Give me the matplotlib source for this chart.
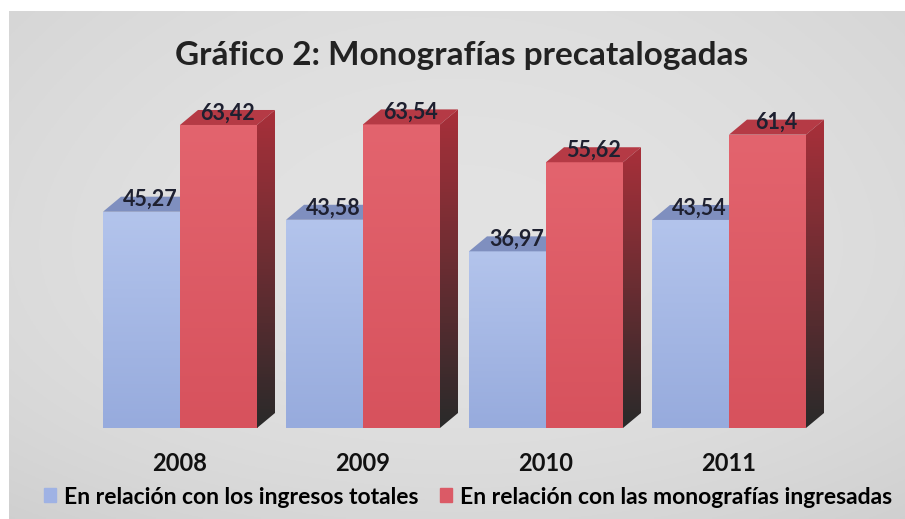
import numpy as np
import matplotlib.pyplot as plt
from matplotlib.patches import Polygon, Patch
from matplotlib.colors import LinearSegmentedColormap

plt.rcParams['font.family'] = ['Lato', 'DejaVu Sans']

# data
years = ['2008', '2009', '2010', '2011']
ingresos_totales = [45.27, 43.58, 36.97, 43.54]
monografias_ingresadas = [63.42, 63.54, 55.62, 61.4]
series_names = ['En relación con los ingresos totales',
                'En relación con las monografías ingresadas']

W, H = 905, 519
fig = plt.figure(figsize=(W / 100, H / 100), dpi=100)
fig.patch.set_facecolor('white')

# gray gradient background (chart area)
bg = fig.add_axes([9 / W, 0, 1 - 9 / W, 508 / H])
yy = np.linspace(0, 1, 200)[:, None]
xx = np.linspace(0, 1, 300)[None, :]
shade = 0.905 - 0.06 * (1 - yy) ** 3 - 0.035 * yy ** 2 - 0.03 * (2 * xx - 1) ** 2
bg.imshow(np.dstack([shade] * 3), extent=[0, 1, 0, 1], aspect='auto', origin='lower')
bg.set_axis_off()

# plotting axes: bottom at the bar baseline
px_per_unit = 4.778
base_px = H - 428
ax = fig.add_axes([0, base_px / H, 1, 1 - base_px / H])
ax.set_facecolor('none')
group_px = 183
x0_px = 180
ax.set_xlim(-x0_px / group_px, (W - x0_px) / group_px)
ax.set_ylim(0, (H - base_px) / px_per_unit)

w = 77 / group_px
dx = 18 / group_px
dy = 15 / px_per_unit
x = np.arange(len(years))


def vgrad(ax, patch, xl, xr, yb, yt, c_top, c_bot):
    cmap = LinearSegmentedColormap.from_list('g', [c_bot, c_top])
    im = ax.imshow(np.linspace(0, 1, 100)[:, None], cmap=cmap, origin='lower',
                   extent=[xl, xr, yb, yt], aspect='auto', zorder=patch.get_zorder())
    im.set_clip_path(patch)


def bars3d(ax, lefts, vals, front, top_c, side_top, side_bot, z):
    bars = ax.bar(lefts, vals, width=w, align='edge', color='none', linewidth=0, zorder=z)
    for b, v in zip(bars, vals):
        xl = b.get_x()
        xr = xl + b.get_width()
        vgrad(ax, b, xl, xr, 0, v, front[0], front[1])
        topf = Polygon([(xl, v), (xr, v), (xr + dx, v + dy), (xl + dx, v + dy)],
                       closed=True, facecolor=top_c, edgecolor='none', zorder=z)
        ax.add_patch(topf)
        side = Polygon([(xr, 0), (xr + dx, dy), (xr + dx, v + dy), (xr, v)],
                       closed=True, facecolor='none', edgecolor='none', zorder=z)
        ax.add_patch(side)
        vgrad(ax, side, xr, xr + dx, 0, v + dy, side_top, side_bot)
    return bars


bars3d(ax, x - w, ingresos_totales, ('#b3c4ec', '#97abdd'), '#7f8fbf',
       '#6f80b0', '#3a4260', 2)
bars3d(ax, x, monografias_ingresadas, ('#e3646e', '#d7525d'), '#b53a45',
       '#a8303a', '#2a2a2a', 3)

for xi, v in zip(x - w, ingresos_totales):
    ax.text(xi + w / 2 + dx / 2, v + dy * 0.8, str(v).replace('.', ','),
            ha='center', va='center', fontsize=15.5, fontweight='bold',
            color='#1e2030', zorder=5)
for xi, v in zip(x, monografias_ingresadas):
    ax.text(xi + w / 2 + dx / 2, v + dy * 0.8, str(v).replace('.', ','),
            ha='center', va='center', fontsize=15.5, fontweight='bold',
            color='#1e2030', zorder=5)

ax.set_xticks(x)
ax.set_xticklabels(years, fontsize=17, fontweight='bold', color='#111111')
ax.tick_params(axis='x', length=0, pad=17)
ax.set_yticks([])
for s in ax.spines.values():
    s.set_visible(False)

fig.text(462 / W, 1 - 55 / H, 'Gráfico 2: Monografías precatalogadas',
         ha='center', va='center', fontsize=24, fontweight='bold', color='#222222')

handles = [Patch(color='#9fb2e4'), Patch(color='#db5a66')]
fig.legend(handles, series_names, loc='center', bbox_to_anchor=(468 / W, 1 - 497 / H),
           ncol=2, frameon=False, prop={'weight': 'bold', 'size': 16.5},
           handlelength=0.55, handleheight=0.55, handletextpad=0.35, columnspacing=0.9)

fig.savefig('out.png', dpi=100)
